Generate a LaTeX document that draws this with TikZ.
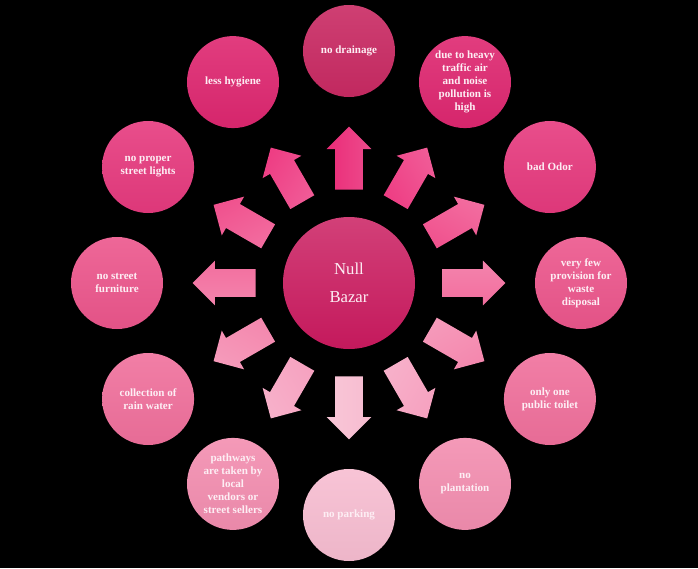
\documentclass[tikz,border=0pt]{standalone}
\usepackage{fontspec}
\setmainfont{Liberation Serif}
\usetikzlibrary{shapes,arrows,positioning}

% pinks, darkest at the top, lightest at the bottom
\definecolor{pk0}{HTML}{C92A63}
\definecolor{pk1}{HTML}{DE2770}
\definecolor{pk2}{HTML}{E63A7E}
\definecolor{pk3}{HTML}{EC568C}
\definecolor{pk4}{HTML}{F0709C}
\definecolor{pk5}{HTML}{F38EB0}
\definecolor{pk6}{HTML}{F7BDD1}
\definecolor{ar0}{HTML}{EA2C78}
\definecolor{ar1}{HTML}{EE3E84}
\definecolor{ar2}{HTML}{F0528E}
\definecolor{ar3}{HTML}{F26E9E}
\definecolor{ar4}{HTML}{F488AE}
\definecolor{ar5}{HTML}{F6A2C0}
\definecolor{ar6}{HTML}{F7BCD0}
\definecolor{hubtop}{HTML}{D24078}
\definecolor{hubbot}{HTML}{C4195C}
\definecolor{txt}{HTML}{FDEEF4}

\begin{document}
\begin{tikzpicture}[
    leaf/.style={circle, minimum size=1.84cm, inner sep=0pt, align=center,
                 text=txt, font=\fontsize{6.3}{7.4}\selectfont\bfseries,
                 top color=#1!90!white, bottom color=#1!96!black},
    hub/.style={circle, minimum size=2.64cm, inner sep=0pt, align=center,
                text=txt, font=\fontsize{9.5}{16}\selectfont,
                top color=hubtop, bottom color=hubbot},
    blockarrow/.style 2 args={single arrow, minimum height=1.26cm,
                inner xsep=0pt, inner ysep=0.27cm, anchor=tail,
                single arrow head extend=0.17cm, rotate=#1,
                top color=#2!85!white, bottom color=#2, shading angle=-#1}
]
    \fill[black] (-6.98,-5.70) rectangle (6.98,5.66);
    \useasboundingbox (-6.98,-5.70) rectangle (6.98,5.66);

    \node[hub] (bazar) at (0,0) {Null\\Bazar};

    % arrows round the hub
    \node[blockarrow={90}{ar0}]   (adrain)     at (90:1.86)   {};
    \node[blockarrow={60}{ar1}]   (atraffic)   at (60:1.86)   {};
    \node[blockarrow={30}{ar2}]   (aodor)      at (30:1.86)   {};
    \node[blockarrow={0}{ar3}]    (awaste)     at (0:1.86)    {};
    \node[blockarrow={-30}{ar4}]  (atoilet)    at (-30:1.86)  {};
    \node[blockarrow={-60}{ar5}]  (aplant)     at (-60:1.86)  {};
    \node[blockarrow={-90}{ar6}]  (aparking)   at (-90:1.86)  {};
    \node[blockarrow={-120}{ar5}] (avendors)   at (-120:1.86) {};
    \node[blockarrow={-150}{ar4}] (arain)      at (-150:1.86) {};
    \node[blockarrow={180}{ar3}]  (afurniture) at (180:1.86)  {};
    \node[blockarrow={150}{ar2}]  (alights)    at (150:1.86)  {};
    \node[blockarrow={120}{ar1}]  (ahygiene)   at (120:1.86)  {};

    % problems
    \node[leaf=pk0] (drain)     at (90:4.64)   {no drainage};
    \node[leaf=pk1] (traffic)   at (60:4.64)   {due to heavy\\traffic air\\and noise\\pollution is\\high};
    \node[leaf=pk2] (odor)      at (30:4.64)   {bad Odor};
    \node[leaf=pk3] (waste)     at (0:4.64)    {very few\\provision for\\waste\\disposal};
    \node[leaf=pk4] (toilet)    at (-30:4.64)  {only one\\public toilet};
    \node[leaf=pk5] (plant)     at (-60:4.64)  {no\\plantation};
    \node[leaf=pk6] (parking)   at (-90:4.64)  {no parking};
    \node[leaf=pk5] (vendors)   at (-120:4.64) {pathways\\are taken by\\local\\vendors or\\street sellers};
    \node[leaf=pk4] (rain)      at (-150:4.64) {collection of\\rain water};
    \node[leaf=pk3] (furniture) at (180:4.64)  {no street\\furniture};
    \node[leaf=pk2] (lights)    at (150:4.64)  {no proper\\street lights};
    \node[leaf=pk1] (hygiene)   at (120:4.64)  {less hygiene};
\end{tikzpicture}
\end{document}
